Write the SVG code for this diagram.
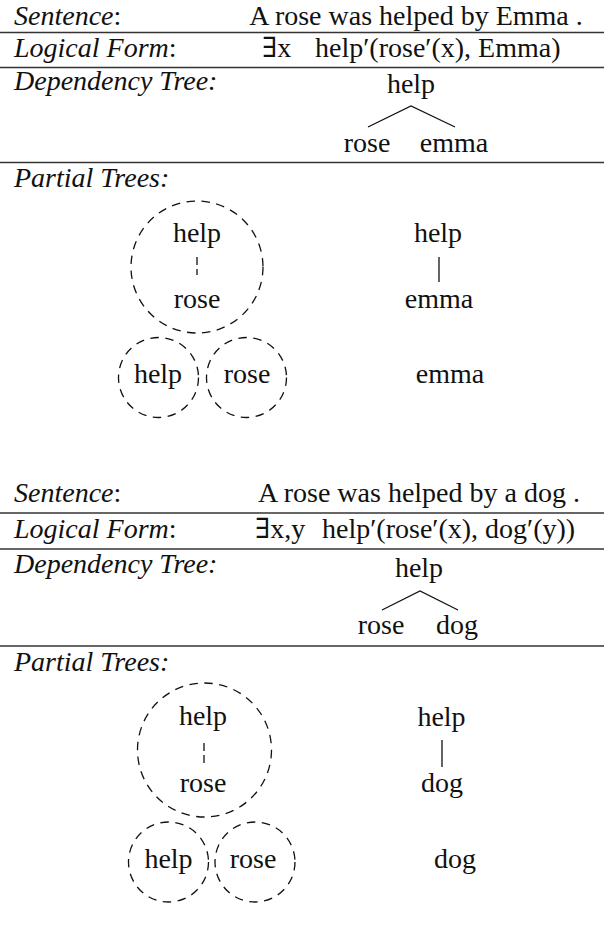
<svg xmlns="http://www.w3.org/2000/svg" width="604" height="936" viewBox="0 0 604 936">
<style>
text{font-size:28px;fill:#111}
.lab{font-style:italic}
.up{font-style:normal}
.mid{text-anchor:middle}
.rule{stroke:#333;stroke-width:1.5}
.edge{stroke:#111;stroke-width:1.3;fill:none}
.dash{stroke:#111;stroke-width:1.3;fill:none;stroke-dasharray:8.5 6.5}
.vd{stroke:#111;stroke-width:1.3;stroke-dasharray:8 4}
</style>
<rect width="604" height="936" fill="#fff"/>

<g id="all" font-family="Liberation Serif, Times New Roman, DejaVu Serif, serif">
<g id="section1">
  <g id="s1-labels">
    <text class="lab" x="14" y="25">Sentence<tspan class="up">:</tspan></text>
    <text class="lab" x="14" y="57">Logical Form<tspan class="up">:</tspan></text>
    <text class="lab" x="14" y="90">Dependency Tree:</text>
    <text class="lab" x="14" y="187">Partial Trees:</text>
  </g>
  <g id="s1-sentence"><text class="mid" x="416" y="25">A rose was helped by Emma .</text></g>
  <g id="s1-lf"><text x="262" y="57">∃x</text><text x="315" y="57">help′(rose′(x), Emma)</text></g>
  <g id="s1-dep-help"><text class="mid" x="411" y="93">help</text></g>
  <g id="s1-dep-rose"><text class="mid" x="367" y="152">rose</text></g>
  <g id="s1-dep-emma"><text class="mid" x="454" y="152">emma</text></g>
  <g id="s1-pt-big"><circle class="dash" cx="197" cy="267" r="66"/><text class="mid" x="197" y="242">help</text><text class="mid" x="197" y="308">rose</text></g>
  <g id="s1-pt-help"><circle class="dash" cx="158.5" cy="377.5" r="40"/><text class="mid" x="158" y="383">help</text></g>
  <g id="s1-pt-rose"><circle class="dash" cx="246.5" cy="377.5" r="40"/><text class="mid" x="247" y="383">rose</text></g>
  <g id="s1-r-help"><text class="mid" x="438" y="242">help</text></g>
  <g id="s1-r-emma"><text class="mid" x="439" y="308">emma</text></g>
  <g id="s1-r-emma2"><text class="mid" x="450" y="383">emma</text></g>
</g>

<g id="section2">
  <g id="s2-labels">
    <text class="lab" x="14" y="502">Sentence<tspan class="up">:</tspan></text>
    <text class="lab" x="14" y="538">Logical Form<tspan class="up">:</tspan></text>
    <text class="lab" x="14" y="573">Dependency Tree:</text>
    <text class="lab" x="14" y="671">Partial Trees:</text>
  </g>
  <g id="s2-sentence"><text class="mid" x="419" y="502">A rose was helped by a dog .</text></g>
  <g id="s2-lf"><text x="255" y="538">∃x,y</text><text x="322" y="538">help′(rose′(x), dog′(y))</text></g>
  <g id="s2-dep-help"><text class="mid" x="419" y="577">help</text></g>
  <g id="s2-dep-rose"><text class="mid" x="381" y="634">rose</text></g>
  <g id="s2-dep-dog"><text class="mid" x="457" y="634">dog</text></g>
  <g id="s2-pt-big"><circle class="dash" cx="204.5" cy="750" r="67"/><text class="mid" x="203" y="725">help</text><text class="mid" x="203" y="792">rose</text></g>
  <g id="s2-pt-help"><circle class="dash" cx="168.5" cy="862" r="40"/><text class="mid" x="168.5" y="868">help</text></g>
  <g id="s2-pt-rose"><circle class="dash" cx="255" cy="862" r="40"/><text class="mid" x="253" y="868">rose</text></g>
  <g id="s2-r-help"><text class="mid" x="441.5" y="726">help</text></g>
  <g id="s2-r-dog"><text class="mid" x="442" y="792">dog</text></g>
  <g id="s2-r-dog2"><text class="mid" x="455" y="868">dog</text></g>
</g>
</g>

<g id="connectors">
  <line class="rule" x1="0" y1="32.5" x2="604" y2="32.5"/>
  <line class="rule" x1="0" y1="67.5" x2="604" y2="67.5"/>
  <line class="rule" x1="0" y1="162.5" x2="604" y2="162.5"/>
  <line class="rule" x1="0" y1="513" x2="604" y2="513"/>
  <line class="rule" x1="0" y1="549" x2="604" y2="549"/>
  <line class="rule" x1="0" y1="646" x2="604" y2="646"/>
  <polyline class="edge" points="368,127 411,106 455,127"/>
  <polyline class="edge" points="382,610 420,591 458,610"/>
  <line class="vd" x1="197" y1="257" x2="197" y2="275"/>
  <line class="vd" x1="204" y1="743" x2="204" y2="767"/>
  <line class="edge" x1="439" y1="257" x2="439" y2="282"/>
  <line class="edge" x1="442" y1="740" x2="442" y2="767"/>
</g>
</svg>
